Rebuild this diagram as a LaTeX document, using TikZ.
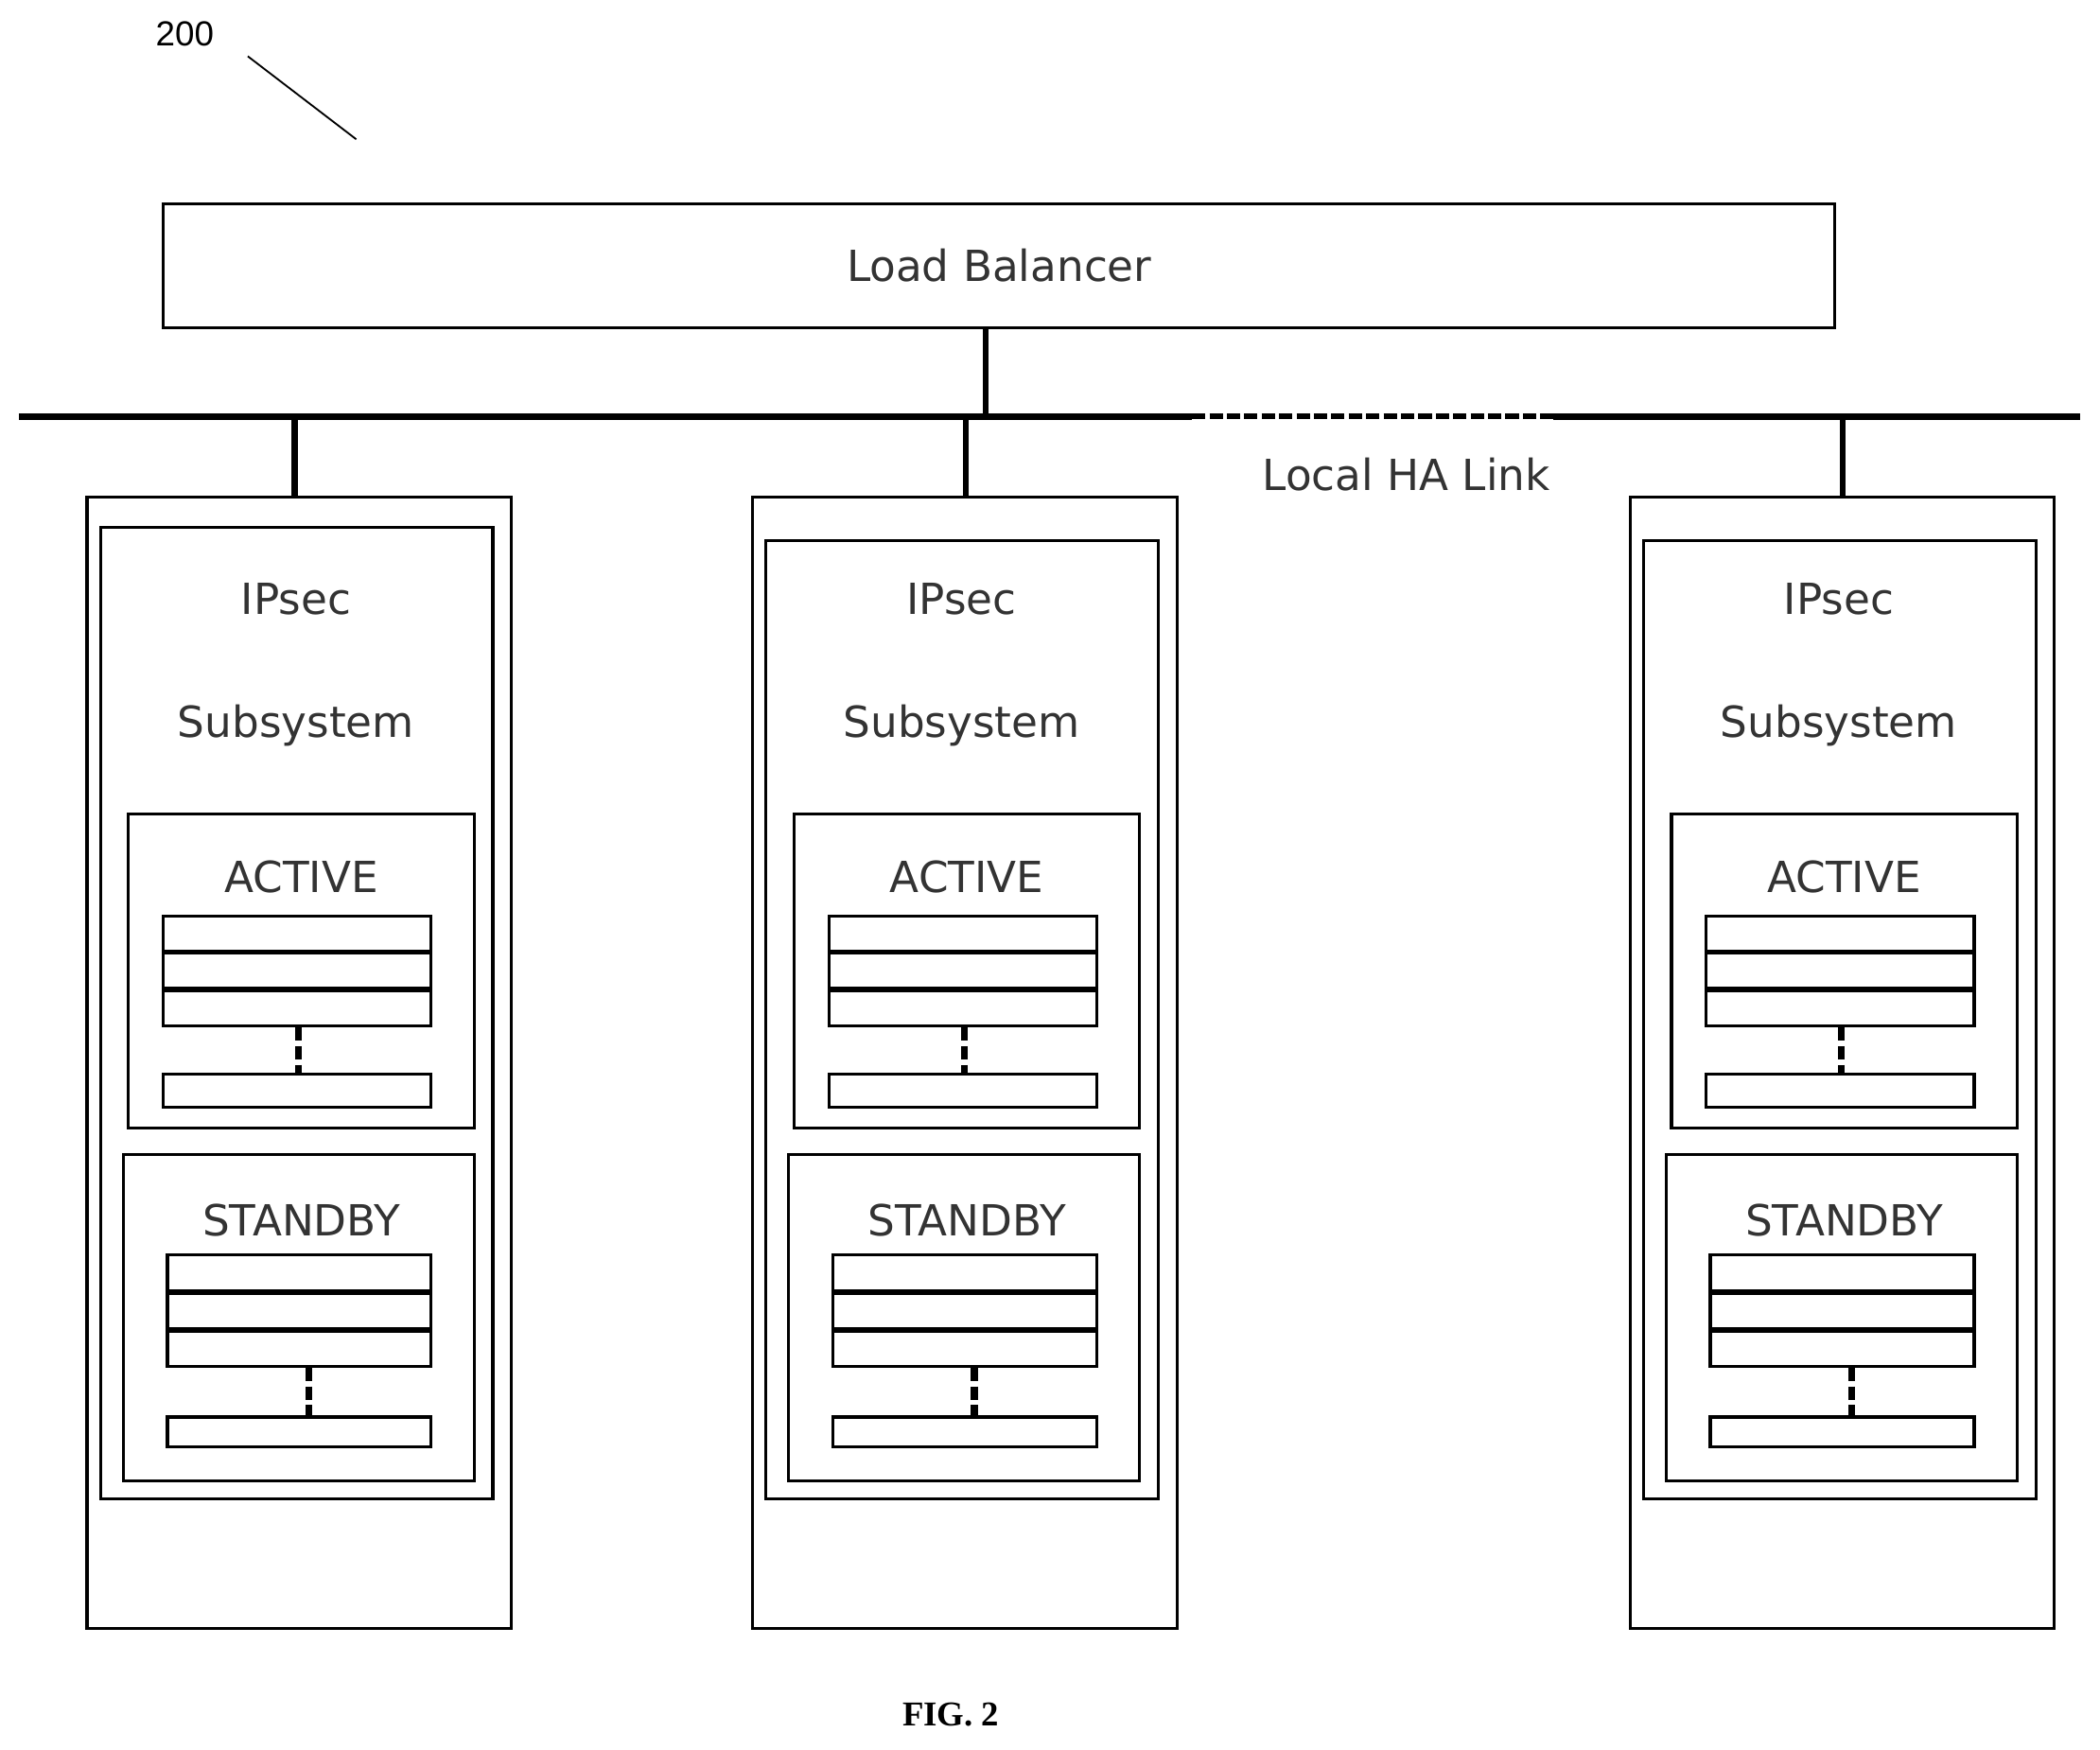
\documentclass[tikz,border=0pt]{standalone}
\usepackage{fontspec}
\setmainfont{DejaVu Sans}
\newfontfamily\arialf{Liberation Sans}
\newfontfamily\timesf{Liberation Serif}
\begin{document}
\begin{tikzpicture}[x=1pt,y=-1pt,
 box/.style={draw,line width=2.2pt},
 rowline/.style={line width=4pt},
 dashv/.style={line width=5pt,dash pattern=on 10pt off 4pt},
 lbl/.style={font=\fontsize{32}{36}\selectfont,text=black!80}]
\useasboundingbox (0,0) rectangle (1568,1306);
\node[font=\arialf\fontsize{26}{28}\selectfont] (n200) at (138,25) {200};
\coordinate (p1) at (185,42); \coordinate (p2) at (266,104);
\draw[line width=1.3pt] (p1) -- (p2);
\node[box,minimum width=1248pt,minimum height=93pt,lbl] (lb) at (746,198.5) {Load Balancer};
\coordinate (busL) at (14,311); \coordinate (busA) at (890,311);
\coordinate (busB) at (1160,311); \coordinate (busR) at (1553,311);
\coordinate (stem) at (736,311);
\draw[line width=5pt] (busL) -- (busA) (busB) -- (busR);
\draw[line width=4pt,dash pattern=on 10pt off 3pt] (busA) -- (busB);
\draw[line width=4.5pt] (lb.south -| stem) -- (stem);
\node[lbl] (ha) at (1050,354) {Local HA Link};
\newcommand\chas[3]{%
\begin{scope}[xshift=#1pt]
\node[box,minimum width=317pt,minimum height=845pt] (c#2) at (223.5,793.5) {};
\node[box,minimum width=293pt,minimum height=#3pt,anchor=south] (i#2) at (221.5,1120) {};
\node[lbl] (ip#2) at (221,447) {IPsec};
\node[lbl] (ss#2) at (221,542) {Subsystem};
\node[box,minimum width=258pt,minimum height=234pt] (a#2) at (225,725) {};
\node[lbl] at (225,655) {ACTIVE};
\node[box,minimum width=200pt,minimum height=82pt] (ar#2) at (222,725) {};
\draw[rowline] (122,711) -- (322,711) (122,739) -- (322,739);
\node[box,minimum width=200pt,minimum height=25pt] (ab#2) at (222,814.5) {};
\draw[dashv] (ar#2.south) ++(1,0) -- ([xshift=1pt]ab#2.north);
\node[box,minimum width=262pt,minimum height=244pt] (s#2) at (223,984) {};
\node[lbl] at (225,911) {STANDBY};
\node[box,minimum width=197pt,minimum height=83pt] (sr#2) at (223.5,978.5) {};
\draw[rowline] (125,965) -- (322,965) (125,993) -- (322,993);
\node[box,minimum width=197pt,minimum height=22pt] (sb#2) at (223.5,1069) {};
\draw[dashv] ([xshift=7pt]sr#2.south) -- ([xshift=7pt]sb#2.north);
\end{scope}}
\chas{0}{1}{725}
\chas{497}{2}{715}
\chas{1152}{3}{715}
\foreach \x/\n in {220/1,721/2,1376/3}{
 \coordinate (d\n) at (\x,311);
 \draw[line width=4.5pt] (d\n) -- (d\n |- c\n.north);}
\node[font=\timesf\bfseries\fontsize{26}{28}\selectfont] (fig) at (710,1280) {FIG. 2};
\end{tikzpicture}
\end{document}
